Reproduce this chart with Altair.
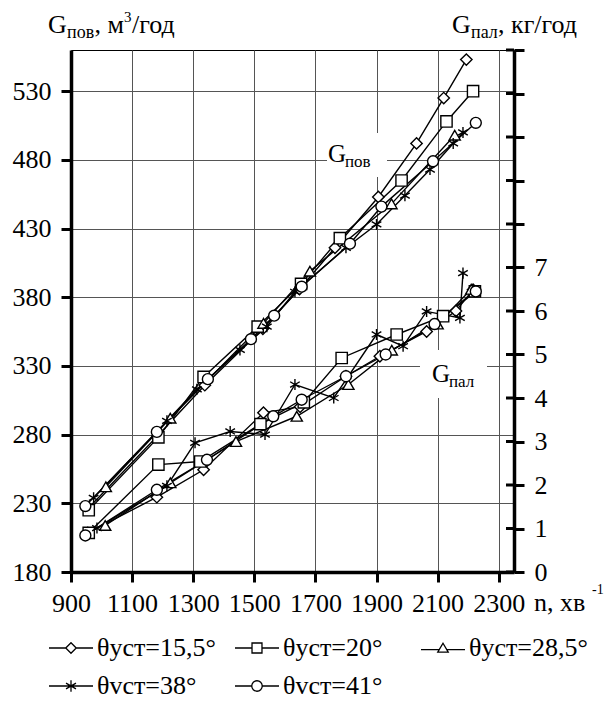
import altair as alt
import pandas as pd

FONT = "'Liberation Serif', 'Times New Roman', Times, serif"

SERIES = ["θуст=15,5°", "θуст=20°", "θуст=28,5°", "θvст=38°", "θvст=41°"]

# ---- G_пов, м3/год (left axis) ----
pov_n_155 = [955, 1183, 1338, 1528, 1648, 1764, 1906, 2031, 2120, 2194]
pov_v_155 = [226, 279, 316, 357, 386, 416, 453, 492, 525, 553]
pov_n_20 = [958, 1186, 1334, 1511, 1653, 1780, 1982, 2129, 2216]
pov_v_20 = [225, 278, 322, 358.6, 389.7, 423, 465, 508, 530]
pov_n_285 = [1014, 1225, 1530, 1682, 1949, 2156]
pov_v_285 = [242, 292, 361, 399, 448, 498]
pov_n_38 = [974, 1214, 1312, 1453, 1541, 1633, 1800, 1900, 1993, 2075, 2151, 2183]
pov_v_38 = [234, 290, 313, 341.7, 358.6, 384, 416, 433, 454, 473, 492, 500]
pov_n_41 = [947, 1181, 1348, 1489, 1565, 1655, 1813, 1916, 2085, 2225]
pov_v_41 = [228, 282, 320.4, 349.5, 366.6, 387.7, 419, 446, 479, 507]

# ---- G_пал, кг/год (right axis) ----
pal_n_155 = [955, 1181, 1334, 1530, 1650, 1800, 1911, 2064, 2160, 2216]
pal_g_155 = [0.90, 1.72, 2.35, 3.66, 3.80, 4.50, 4.96, 5.53, 6.00, 6.49]
pal_n_20 = [958, 1186, 1323, 1520, 1662, 1786, 1966, 2118, 2222]
pal_g_20 = [0.90, 2.47, 2.54, 3.40, 3.90, 4.92, 5.46, 5.88, 6.45]
pal_n_285 = [1012, 1225, 1440, 1639, 1808, 1950, 2100, 2210]
pal_g_285 = [1.07, 2.05, 3.00, 3.58, 4.31, 5.10, 5.70, 6.50]
pal_n_38 = [985, 1214, 1306, 1421, 1535, 1633, 1760, 1900, 1987, 2064, 2173, 2183]
pal_g_38 = [1.01, 1.98, 2.97, 3.23, 3.16, 4.31, 4.00, 5.46, 5.19, 5.99, 5.84, 6.87]
pal_n_41 = [947, 1181, 1345, 1562, 1655, 1800, 1930, 2090, 2225]
pal_g_41 = [0.84, 1.89, 2.58, 3.58, 3.96, 4.50, 5.00, 5.70, 6.45]

x_ticks = [900, 1100, 1300, 1500, 1700, 1900, 2100, 2300]
left_ticks = [180, 230, 280, 330, 380, 430, 480, 530]
right_ticks = list(range(0, 13))

pov = pd.concat([
    pd.DataFrame({"n": pov_n_155, "v": pov_v_155, "s": SERIES[0]}),
    pd.DataFrame({"n": pov_n_20, "v": pov_v_20, "s": SERIES[1]}),
    pd.DataFrame({"n": pov_n_285, "v": pov_v_285, "s": SERIES[2]}),
    pd.DataFrame({"n": pov_n_38, "v": pov_v_38, "s": SERIES[3]}),
    pd.DataFrame({"n": pov_n_41, "v": pov_v_41, "s": SERIES[4]}),
], ignore_index=True)

pal = pd.concat([
    pd.DataFrame({"n": pal_n_155, "g": pal_g_155, "s": SERIES[0]}),
    pd.DataFrame({"n": pal_n_20, "g": pal_g_20, "s": SERIES[1]}),
    pd.DataFrame({"n": pal_n_285, "g": pal_g_285, "s": SERIES[2]}),
    pd.DataFrame({"n": pal_n_38, "g": pal_g_38, "s": SERIES[3]}),
    pd.DataFrame({"n": pal_n_41, "g": pal_g_41, "s": SERIES[4]}),
], ignore_index=True)

rt = pd.DataFrame({"t": right_ticks})
leg_df = pd.DataFrame({"s": SERIES})

W, H = 443, 522

STAR = "M0,-1L0,1M-0.87,-0.5L0.87,0.5M-0.87,0.5L0.87,-0.5"
shape_scale = alt.Scale(domain=SERIES, range=["diamond", "square", "triangle-up", STAR, "circle"])
size_scale = alt.Scale(domain=SERIES, range=[130, 120, 150, 150, 150])

# legend symbols: line - marker - line
L = "M-4.2,0L-1,0M1,0L4.2,0"
leg_paths = [
    L + "M-1,0L0,-1L1,0L0,1Z",
    L + "M-0.95,-0.95L0.95,-0.95L0.95,0.95L-0.95,0.95Z",
    "M-4.2,0.3L-0.8,0.3M0.8,0.3L4.2,0.3M0,-0.9L1,0.8L-1,0.8Z",
    "M-4.2,0L4.2,0M0,-1.1L0,1.1M-0.95,-0.55L0.95,0.55M-0.95,0.55L0.95,-0.55",
    L + "M-1,0A1,1 0 1,0 1,0A1,1 0 1,0 -1,0Z",
]
leg_shape_scale = alt.Scale(domain=SERIES, range=leg_paths)

legend = alt.Legend(
    title=None, orient="none", legendX=-15, legendY=585, columns=3,
    direction="horizontal",
    gridAlign="all", columnPadding=16, rowPadding=12, padding=0,
    symbolOffset=2, labelOffset=13, symbolSize=110,
    symbolStrokeColor="black", symbolStrokeWidth=1.3,
    symbolOpacity=1,
    labelFont=FONT, labelFontSize=26, labelColor="black", labelLimit=300,
)

x_enc = alt.X("n:Q", scale=alt.Scale(domain=[900, 2350], nice=False, zero=False),
              axis=alt.Axis(values=x_ticks, title=None, grid=True, labelPadding=8,
                            format="d", labelFlush=False))

left_axis = alt.Axis(values=left_ticks, title=None, orient="left", grid=True,
                     labelPadding=10, format="d")
right_axis = alt.Axis(values=right_ticks, title=None, orient="right", grid=False,
                      labelPadding=10, labelExpr="datum.value <= 7 ? datum.label : ''")

yl = alt.Y("v:Q", scale=alt.Scale(domain=[180, 560], nice=False, zero=False), axis=left_axis)
yr_scale = alt.Scale(domain=[0, 12], nice=False)

pov_lines = alt.Chart(pov).mark_line(color="black", strokeWidth=1.4).encode(
    x=x_enc, y=yl, detail="s:N")
pov_pts = alt.Chart(pov).mark_point(filled=True, fill="white", stroke="black",
                                    strokeWidth=1.4, opacity=1).encode(
    x=x_enc, y=yl,
    shape=alt.Shape("s:N", scale=shape_scale, legend=None),
    size=alt.Size("s:N", scale=size_scale, legend=None))
left_group = alt.layer(pov_lines, pov_pts)

pal_lines = alt.Chart(pal).mark_line(color="black", strokeWidth=1.4).encode(
    x=x_enc, y=alt.Y("g:Q", scale=yr_scale, axis=right_axis), detail="s:N")
pal_pts = alt.Chart(pal).mark_point(filled=True, fill="white", stroke="black",
                                    strokeWidth=1.4, opacity=1).encode(
    x=x_enc, y=alt.Y("g:Q", scale=yr_scale, axis=right_axis),
    shape=alt.Shape("s:N", scale=shape_scale, legend=None),
    size=alt.Size("s:N", scale=size_scale, legend=None))
inner_ticks = alt.Chart(rt).mark_rule(color="black", strokeWidth=3).encode(
    x=alt.value(W - 8), x2=alt.value(W),
    y=alt.Y("t:Q", scale=yr_scale, axis=right_axis))
right_group = alt.layer(inner_ticks, pal_lines, pal_pts)

# legend-only layer (its marks sit outside the drawing)
leg_layer = alt.Chart(leg_df).mark_point(filled=False, color="black",
                                         strokeWidth=1.3, size=110, opacity=1).encode(
    x=alt.value(-3000), y=alt.value(-3000),
    shape=alt.Shape("s:N", scale=leg_shape_scale, legend=legend))

one = pd.DataFrame({"k": [0]})


def txt(s, x, y, size):
    return alt.Chart(one).mark_text(text=s, font=FONT, fontSize=size, align="left",
                                    baseline="alphabetic", color="black").encode(
        x=alt.value(x), y=alt.value(y))


def box(x1, y1, x2, y2):
    return alt.Chart(one).mark_rect(color="white").encode(
        x=alt.value(x1), x2=alt.value(x2), y=alt.value(y1), y2=alt.value(y2))


annots = [
    box(256, 83, 316, 127),
    box(349, 300, 416, 348),
    txt("G", 257, 112, 25), txt("пов", 274, 117, 17),
    txt("G", 361, 332, 25), txt("пал", 378, 337, 17),
    # left axis title
    txt("G", -23, -17, 26), txt("пов", -4, -12, 18), txt(", м", 23.5, -17, 26),
    txt("3", 53, -28, 15), txt("/год", 61, -17, 26),
    # right axis title
    txt("G", 381, -17, 26), txt("пал", 400, -12, 18), txt(", кг/год", 427, -17, 26),
    # x axis title
    txt("n, хв", 463, 561, 26), txt("-1", 521, 544, 14),
]

chart = alt.layer(*annots, left_group, right_group, leg_layer).resolve_scale(
    y="independent", shape="independent"
).properties(
    width=W, height=H,
    autosize=alt.AutoSizeParams(type="none"),
    padding={"left": 63, "top": 42, "right": 92, "bottom": 134},
).configure_view(
    stroke="black", strokeWidth=1
).configure_axis(
    domainColor="black", domainWidth=3.5, tickColor="black", tickWidth=3, tickSize=10,
    labelFont=FONT, labelFontSize=26, labelColor="black",
    gridColor="#555", gridWidth=1, gridOpacity=1,
)

chart.save("out.html", embed_options={"renderer": "svg", "actions": False})
